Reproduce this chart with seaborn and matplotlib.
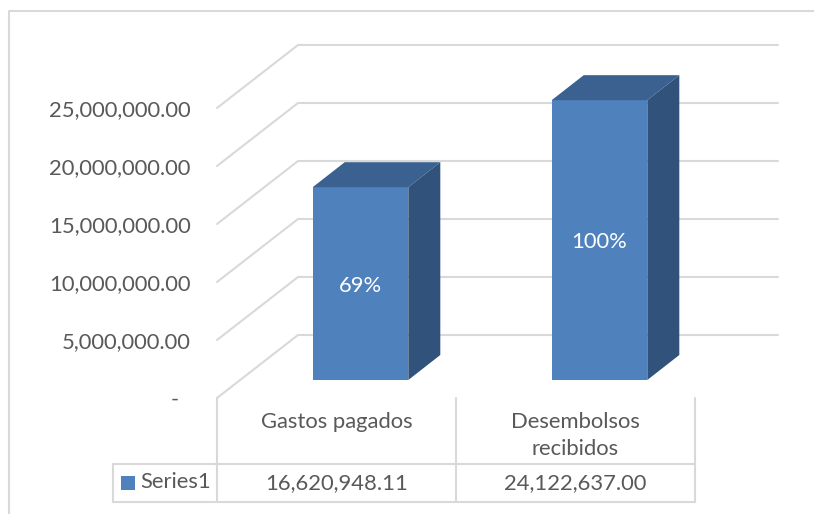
import matplotlib
matplotlib.use('Agg')
import matplotlib.pyplot as plt
import seaborn as sns
from matplotlib.lines import Line2D
from matplotlib.patches import Polygon, Rectangle
from matplotlib.transforms import Affine2D, blended_transform_factory

categories = ['Gastos pagados', 'Desembolsos\nrecibidos']
values = [16620948.11, 24122637.00]
percents = ['69%', '100%']
series_name = 'Series1'
y_ticks = [0, 5000000, 10000000, 15000000, 20000000, 25000000]

W, H = 814, 514
GRID = '#d9d9d9'
TEXT = '#595959'
FRONT = '#4f81bd'
TOP = '#3b6190'
SIDE = '#31527b'
FS = 15.8
LW = 1.5

sns.set_theme(style='white')
plt.rcParams['font.family'] = ['Lato', 'DejaVu Sans']


def main():
    fig = plt.figure(figsize=(W / 100, H / 100), dpi=100)
    ax = fig.add_axes([217 / W, (H - 398) / H, 478 / W, 290 / H])
    sns.barplot(x=categories, y=values, color=FRONT, saturation=1, width=0.4, linewidth=0, ax=ax, zorder=3)
    ax.set_xlim(-0.5, 1.5)
    ax.set_ylim(0, y_ticks[-1])

    # one pixel in data units
    px_x = 1 / 239
    px_y = y_ticks[-1] / 290

    # pixel coordinates from the top left, for the table and the frame
    px = Affine2D().scale(1, -1).translate(0, H)
    col_y = blended_transform_factory(ax.transData, px)

    # back wall and side wall grid
    wall_x, wall_y = 81 * px_x, 63 * px_y
    for v in y_ticks:
        ax.plot([-0.5, -0.5 + wall_x, 1.5 + 83 * px_x], [v, v + wall_y, v + wall_y],
                color=GRID, lw=LW, clip_on=False, zorder=1)

    # fake 3d bars: move the front face onto the floor, then add top and side
    shift = Affine2D().translate(24, 18)
    front = ax.transData + shift
    dx, dy = 32 * px_x, 25 * px_y
    for bar, pct in zip(ax.patches, percents):
        x0, x1 = bar.get_x(), bar.get_x() + bar.get_width()
        h = bar.get_height()
        bar.set_transform(front)
        bar.set_clip_on(False)
        ax.add_patch(Polygon([(x0, h), (x1, h), (x1 + dx, h + dy), (x0 + dx, h + dy)],
                             fc=TOP, ec='none', transform=front, clip_on=False, zorder=3))
        ax.add_patch(Polygon([(x1, 0), (x1 + dx, dy), (x1 + dx, h + dy), (x1, h)],
                             fc=SIDE, ec='none', transform=front, clip_on=False, zorder=3))
        ax.text((x0 + x1) / 2, h / 2 - 2 * px_y, pct, color='white', fontsize=FS, ha='center', va='center',
                transform=front, zorder=4)

    ax.set_yticks(y_ticks)
    ax.set_yticklabels(['-  ' if v == 0 else f'{v:,.2f}' for v in y_ticks])
    ax.tick_params(axis='y', length=0, pad=19, labelsize=FS, labelcolor=TEXT)
    ax.tick_params(axis='x', length=0, pad=10, labelsize=FS, labelcolor=TEXT)
    for label in ax.get_xticklabels():
        label.set_linespacing(1.42)
    sns.despine(ax=ax, left=True, bottom=True)
    ax.set_xlabel('')
    ax.set_ylabel('')

    # data table under the chart
    for x in [-0.5, 0.5, 1.5]:
        ax.plot([x, x], [398, 502], color=GRID, lw=LW, transform=col_y, clip_on=False, zorder=1)
    for y in [464, 502]:
        fig.add_artist(Line2D([113, 695], [y, y], color=GRID, lw=LW, transform=px))
    fig.add_artist(Line2D([113, 113], [464, 502], color=GRID, lw=LW, transform=px))
    fig.add_artist(Rectangle((121, 476), 14, 14, fc=FRONT, ec='none', transform=px))
    fig.text(140, 482, series_name, color=TEXT, fontsize=FS, ha='left', va='center', transform=px)
    for i, v in enumerate(values):
        ax.text(i, 483, f'{v:,.2f}', color=TEXT, fontsize=FS, ha='center', va='center',
                transform=col_y, clip_on=False)

    # chart frame, only left and top are inside the crop
    fig.add_artist(Line2D([9, 9, W], [H, 11, 11], color=GRID, lw=LW, transform=px))

    fig.savefig('out.png', dpi=100)


if __name__ == '__main__':
    main()
